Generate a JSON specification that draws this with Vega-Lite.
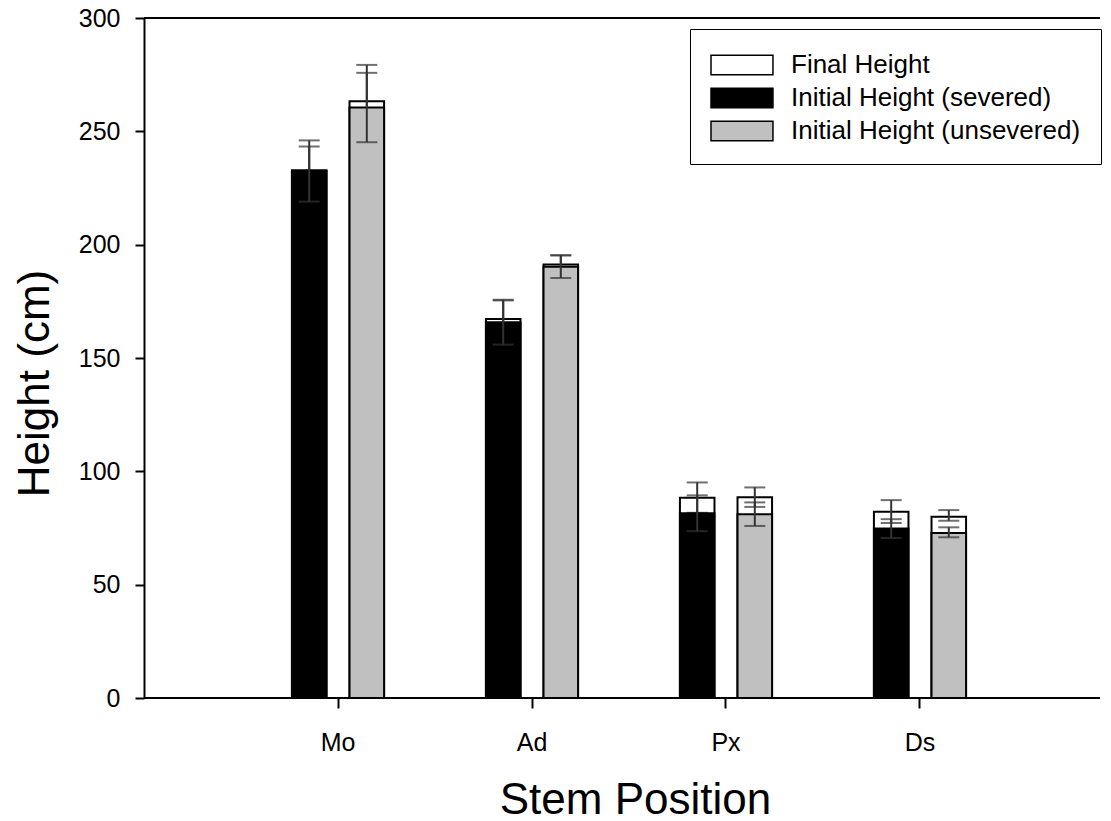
{
  "$schema": "https://vega.github.io/schema/vega-lite/v6.json",
  "width": 956,
  "height": 680,
  "autosize": {"type": "none"},
  "padding": {"left": 144, "top": 18, "right": 11, "bottom": 123},
  "background": "white",
  "config": {
    "view": {"stroke": null},
    "font": "Liberation Sans",
    "axis": {
      "grid": false,
      "domainColor": "black",
      "domainWidth": 2,
      "tickColor": "black",
      "tickWidth": 2,
      "labelColor": "black",
      "labelFont": "Liberation Sans",
      "labelFontSize": 25,
      "titleFont": "Liberation Sans",
      "titleFontSize": 44,
      "titleFontWeight": "normal",
      "titleColor": "black"
    },
    "legend": {
      "padding": 20,
      "strokeColor": "black",
      "fillColor": "white",
      "labelFont": "Liberation Sans",
      "labelFontSize": 26,
      "labelColor": "black",
      "labelLimit": 400,
      "labelOffset": 49,
      "rowPadding": 4,
      "symbolType": "M-1,-0.65L3.13,-0.65L3.13,0.65L-1,0.65Z",
      "symbolSize": 900,
      "symbolStrokeColor": "black",
      "symbolStrokeWidth": 1.5,
      "symbolOpacity": 1
    }
  },
  "data": {
    "values": [
      {"pos": "Mo", "treatment": "severed", "series": "Initial Height (severed)", "initial": 232.5, "ini_lo": 219.0, "ini_hi": 246.0, "final": 232.8, "fin_lo": 222.3, "fin_hi": 243.3},
      {"pos": "Mo", "treatment": "unsevered", "series": "Initial Height (unsevered)", "initial": 260.5, "ini_lo": 245.2, "ini_hi": 275.8, "final": 263.3, "fin_lo": 247.3, "fin_hi": 279.3},
      {"pos": "Ad", "treatment": "severed", "series": "Initial Height (severed)", "initial": 165.8, "ini_lo": 155.9, "ini_hi": 175.7, "final": 167.2, "fin_lo": 159.0, "fin_hi": 175.4},
      {"pos": "Ad", "treatment": "unsevered", "series": "Initial Height (unsevered)", "initial": 190.3, "ini_lo": 185.3, "ini_hi": 195.3, "final": 191.3, "fin_lo": 187.3, "fin_hi": 195.3},
      {"pos": "Px", "treatment": "severed", "series": "Initial Height (severed)", "initial": 81.5, "ini_lo": 73.6, "ini_hi": 89.4, "final": 88.4, "fin_lo": 81.7, "fin_hi": 95.1},
      {"pos": "Px", "treatment": "unsevered", "series": "Initial Height (unsevered)", "initial": 81.1, "ini_lo": 75.9, "ini_hi": 86.3, "final": 88.6, "fin_lo": 84.3, "fin_hi": 92.9},
      {"pos": "Ds", "treatment": "severed", "series": "Initial Height (severed)", "initial": 74.8, "ini_lo": 70.6, "ini_hi": 78.9, "final": 82.2, "fin_lo": 77.2, "fin_hi": 87.3},
      {"pos": "Ds", "treatment": "unsevered", "series": "Initial Height (unsevered)", "initial": 72.8, "ini_lo": 70.9, "ini_hi": 75.3, "final": 80.0, "fin_lo": 78.2, "fin_hi": 82.9}
    ]
  },
  "encoding": {
    "x": {
      "field": "pos",
      "type": "nominal",
      "sort": ["Mo", "Ad", "Px", "Ds"],
      "scale": {"paddingInner": 0.525, "paddingOuter": 0.7265, "range": [7, 963]},
      "axis": {
        "title": "Stem Position",
        "labelAngle": 0,
        "domain": false,
        "tickSize": 10,
        "labelPadding": 22,
        "titleX": 491,
        "titleY": 115,
        "titleBaseline": "alphabetic"
      }
    },
    "xOffset": {
      "field": "treatment",
      "type": "nominal",
      "sort": ["severed", "unsevered"],
      "scale": {"paddingInner": 0.4, "paddingOuter": 0}
    }
  },
  "layer": [
    {
      "mark": {"type": "bar", "stroke": "black", "strokeWidth": 2},
      "encoding": {
        "y": {
          "field": "final",
          "type": "quantitative",
          "stack": null,
          "scale": {"domain": [0, 300], "nice": false},
          "axis": {
            "title": "Height (cm)",
            "values": [0, 50, 100, 150, 200, 250, 300],
            "tickSize": 9,
            "labelPadding": 15,
            "titleX": -96,
            "titleY": 365,
            "titleBaseline": "alphabetic"
          }
        },
        "fill": {
          "datum": "Final Height",
          "type": "nominal",
          "title": null,
          "scale": {
            "domain": ["Final Height", "Initial Height (severed)", "Initial Height (unsevered)"],
            "range": ["white", "black", "#c0c0c0"]
          },
          "legend": {
            "title": null,
            "orient": "none",
            "legendX": 546,
            "legendY": 11
          }
        }
      }
    },
    {
      "mark": {"type": "rule", "color": "#333333", "strokeWidth": 2},
      "encoding": {
        "y": {"field": "fin_lo", "type": "quantitative"},
        "y2": {"field": "fin_hi"}
      }
    },
    {
      "mark": {"type": "tick", "color": "#333333", "thickness": 2, "size": 21, "orient": "horizontal"},
      "encoding": {"y": {"field": "fin_hi", "type": "quantitative"}}
    },
    {
      "mark": {"type": "tick", "color": "#333333", "thickness": 2, "size": 21, "orient": "horizontal"},
      "encoding": {"y": {"field": "fin_lo", "type": "quantitative"}}
    },
    {
      "mark": {"type": "bar", "stroke": "black", "strokeWidth": 2},
      "encoding": {
        "y": {"field": "initial", "type": "quantitative", "stack": null},
        "fill": {"field": "series", "type": "nominal", "title": null, "legend": {"title": null}}
      }
    },
    {
      "mark": {"type": "rule", "color": "#333333", "strokeWidth": 2},
      "encoding": {
        "y": {"field": "ini_lo", "type": "quantitative"},
        "y2": {"field": "ini_hi"}
      }
    },
    {
      "mark": {"type": "tick", "color": "#333333", "thickness": 2, "size": 21, "orient": "horizontal"},
      "encoding": {"y": {"field": "ini_hi", "type": "quantitative"}}
    },
    {
      "mark": {"type": "tick", "color": "#333333", "thickness": 2, "size": 21, "orient": "horizontal"},
      "encoding": {"y": {"field": "ini_lo", "type": "quantitative"}}
    },
    {
      "data": {"values": [{"edge": 0}, {"edge": 300}]},
      "mark": {"type": "rule", "color": "black", "strokeWidth": 2},
      "encoding": {
        "x": null,
        "xOffset": null,
        "y": {"field": "edge", "type": "quantitative"}
      }
    }
  ]
}
